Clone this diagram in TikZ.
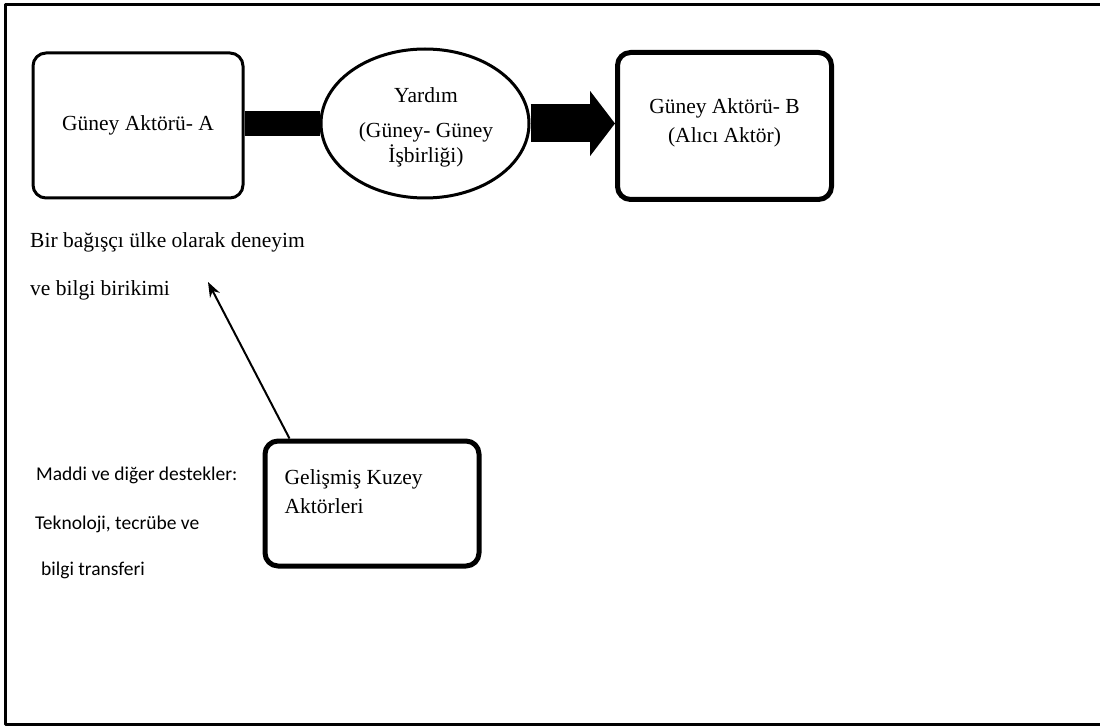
\documentclass[tikz,border=0pt]{standalone}
\usepackage{fontspec}
\setmainfont{Liberation Serif}
\newfontfamily\calibrifont{Carlito}
\usetikzlibrary{arrows.meta,shapes.geometric,positioning}

\begin{document}
\begin{tikzpicture}[x=1pt, y=-1pt, line join = round, >={Stealth[length=15pt,width=11pt]}, font=\fontsize{21.5}{27}\selectfont]
				\tikzset{aktor/.style={draw, rounded corners=13pt, minimum width=214pt, minimum height=147pt, inner sep=0pt},
					yardim style/.style={draw, ellipse, line width=3pt, minimum width=208pt, minimum height=149pt, inner sep=0pt},
					sans text/.style={font=\calibrifont\fontsize{19.5}{23}\selectfont, anchor=west, inner sep=0pt}}
				\useasboundingbox (0,0) rectangle (1100,727);
				\path (208,282) coordinate (birikim);
				\draw[line width=3pt] (5.5,4.5) rectangle (1115,724);
				% ust sira
				\node[aktor, line width=3pt, minimum width=210pt, minimum height=145pt] (guneyA) at (138,125.5) {Güney Aktörü- A};
				\node[yardim style] (yardim) at (425,123.5) {};
				\node[align=center, font=\fontsize{21.5}{25}\selectfont] (yardimyazi) at ([shift={(1,4)}]yardim.center) {Yardım\\[10pt](Güney- Güney\\İşbirliği)};
				\node[aktor, line width=5pt] (guneyB) at (724.5,126) {};
				\node[align=center, font=\fontsize{21.5}{29}\selectfont] (alici) at ([yshift=3.5pt]guneyB.center) {Güney Aktörü- B\\(Alıcı Aktör)};
				\draw[line width=25pt] (guneyA.east |- yardim.west) -- (yardim.west);
				\draw[line width=38pt, -{Triangle[length=25pt,width=64pt]}] (yardim.east) -- (yardim.east -| guneyB.west);
				% bagisci metni
				\node[anchor=west, inner sep=0pt] (bagisci1) at (30,242) {Bir bağışçı ülke olarak deneyim};
				\node[anchor=west, inner sep=0pt] (bagisci2) at (30,290) {ve bilgi birikimi};
				% kuzey
				\node[aktor, line width=5pt, minimum height=125pt] (kuzey) at (372,503.5) {};
				\node[anchor=north west, align=left, inner sep=0pt, font=\fontsize{21.5}{29}\selectfont] (kuzeyyazi) at ([shift={(22,31)}]kuzey.north west) {Gelişmiş Kuzey\\Aktörleri};
				\draw[->, line width=2pt] ([xshift=27pt]kuzey.north west) -- (birikim);
				\foreach \y/\x/\t [count=\i] in {475/36/Maddi ve diğer destekler:, 524/35/{Teknoloji, tecrübe ve}, 570/41/bilgi transferi}
				\node[sans text] (destek\i) at (\x,\y) {\t};
		\end{tikzpicture}
\end{document}
